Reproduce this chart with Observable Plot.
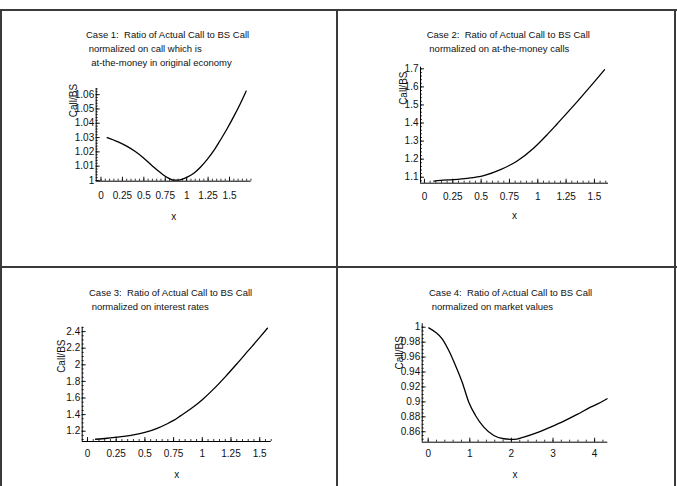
<!DOCTYPE html>
<html>
<head>
<meta charset="utf-8">
<script src="https://cdn.jsdelivr.net/npm/d3@7"></script>
<script src="https://cdn.jsdelivr.net/npm/@observablehq/plot@0.6"></script>
<style>
  html, body { margin: 0; padding: 0; background: #fff; }
  #page { position: relative; width: 677px; height: 486px; overflow: hidden; background: #fff;
          font-family: "Liberation Sans", Arial, sans-serif; color: #000; }
  .hline, .vline { position: absolute; background: #3a3a3a; }
  .title { position: absolute; font-size: 9.5px; line-height: 13.9px; white-space: pre; color: #111; }
  #page svg { position: absolute; left: 0; top: 0; }
</style>
</head>
<body>
<div id="page"></div>
<script>
// ---------- data ----------
const case1X = [0.072, 0.2, 0.305, 0.4, 0.5, 0.6, 0.7, 0.8, 0.85, 0.9, 0.95, 1.0, 1.083, 1.16, 1.24, 1.32, 1.394, 1.47, 1.55, 1.62, 1.694];
const case1Y = [1.030, 1.0270, 1.0238, 1.0202, 1.0156, 1.0102, 1.0052, 1.0013, 1.0002, 1.0003, 1.0010, 1.0022, 1.0050, 1.0092, 1.0147, 1.0212, 1.0283, 1.0360, 1.0448, 1.0530, 1.0625];

const case2X = [0.082, 0.141, 0.25, 0.377, 0.523, 0.671, 0.818, 0.965, 1.083, 1.17, 1.259, 1.35, 1.436, 1.51, 1.589];
const case2Y = [1.079, 1.083, 1.087, 1.094, 1.109, 1.142, 1.19, 1.262, 1.336, 1.395, 1.456, 1.52, 1.582, 1.636, 1.695];

const case3X = [0.07, 0.172, 0.25, 0.317, 0.4, 0.5, 0.607, 0.695, 0.75, 0.81, 0.9, 1.0, 1.1, 1.2, 1.3, 1.4, 1.5, 1.567];
const case3Y = [1.103, 1.115, 1.127, 1.138, 1.155, 1.185, 1.235, 1.29, 1.33, 1.385, 1.47, 1.58, 1.71, 1.855, 2.01, 2.17, 2.33, 2.44];

const case4X = [0.015, 0.175, 0.336, 0.495, 0.656, 0.817, 0.976, 1.137, 1.337, 1.577, 1.817, 2.058, 2.298, 2.62, 2.94, 3.26, 3.58, 3.90, 4.14, 4.30];
const case4Y = [0.9992, 0.9933, 0.9845, 0.9688, 0.9488, 0.9264, 0.8996, 0.8818, 0.8662, 0.855, 0.8506, 0.8497, 0.8528, 0.8587, 0.8662, 0.8742, 0.8832, 0.8929, 0.8992, 0.9042];

// tick values and labels
const xTicksA = [0, 0.25, 0.5, 0.75, 1, 1.25, 1.5];
const xLabelsA = ["0", "0.25", "0.5", "0.75", "1", "1.25", "1.5"];
const xTicksB = [0, 1, 2, 3, 4];
const xLabelsB = ["0", "1", "2", "3", "4"];
const yTicks1 = [1, 1.01, 1.02, 1.03, 1.04, 1.05, 1.06];
const yLabels1 = ["1", "1.01", "1.02", "1.03", "1.04", "1.05", "1.06"];
const yTicks2 = [1.1, 1.2, 1.3, 1.4, 1.5, 1.6, 1.7];
const yLabels2 = ["1.1", "1.2", "1.3", "1.4", "1.5", "1.6", "1.7"];
const yTicks3 = [1.2, 1.4, 1.6, 1.8, 2, 2.2, 2.4];
const yLabels3 = ["1.2", "1.4", "1.6", "1.8", "2", "2.2", "2.4"];
const yTicks4 = [0.86, 0.88, 0.9, 0.92, 0.94, 0.96, 0.98, 1];
const yLabels4 = ["0.86", "0.88", "0.9", "0.92", "0.94", "0.96", "0.98", "1"];

const titles = [
  ["Case 1:  Ratio of Actual Call to BS Call", " normalized on call which is", "  at-the-money in original economy"],
  ["Case 2:  Ratio of Actual Call to BS Call", " normalized on at-the-money calls"],
  ["Case 3:  Ratio of Actual Call to BS Call", " normalized on interest rates"],
  ["Case 4:  Ratio of Actual Call to BS Call", " normalized on market values"]
];
const yAxisLabel = "Call/BS";
const xAxisLabel = "x";

// ---------- layout ----------
const W = 677, H = 486;
const page = document.getElementById("page");

function line(cls, l, t, w, h) {
  const d = document.createElement("div");
  d.className = cls;
  Object.assign(d.style, {left: l + "px", top: t + "px", width: w + "px", height: h + "px"});
  page.appendChild(d);
}
line("hline", 0, 9, 677, 2);
line("hline", 0, 266, 677, 2);
line("vline", 0, 9, 2, 477);
line("vline", 336, 9, 2, 477);
line("vline", 674, 9, 2, 477);

const panels = [
  {xs: case1X, ys: case1Y, title: titles[0], tl: [86, 28],
   frame: {l: 95.7, r: 250.7, t: 88, b: 180.7}, xDomain: [-0.056, 1.753], yDomain: [0.9995, 1.0643],
   xT: xTicksA, xL: xLabelsA, xMinor: d3.range(0, 1.76, 0.05), yT: yTicks1, yL: yLabels1, yMinor: d3.range(1, 1.0645, 0.002),
   xPad: 11, ylab: [-22.7, 12], xlab: 36},
  {xs: case2X, ys: case2Y, title: titles[1], tl: [426.7, 28],
   frame: {l: 420, r: 608, t: 66.7, b: 182.7}, xDomain: [-0.035, 1.624], yDomain: [1.067, 1.709],
   xT: xTicksA, xL: xLabelsA, xMinor: d3.range(0, 1.63, 0.05), yT: yTicks2, yL: yLabels2, yMinor: d3.range(1.08, 1.71, 0.02),
   xPad: 9.8, ylab: [-17, 21], xlab: 32.3},
  {xs: case3X, ys: case3Y, title: titles[2], tl: [89, 285.8],
   frame: {l: 81.7, r: 270.7, t: 326.7, b: 441}, xDomain: [-0.046, 1.60], yDomain: [1.076, 2.453],
   xT: xTicksA, xL: xLabelsA, xMinor: d3.range(0, 1.61, 0.05), yT: yTicks3, yL: yLabels3, yMinor: d3.range(1.1, 2.46, 0.05),
   xPad: 8.5, ylab: [-20, 29], xlab: 33},
  {xs: case4X, ys: case4Y, title: titles[3], tl: [429, 285.8],
   frame: {l: 421.7, r: 607.3, t: 323.3, b: 441.7}, xDomain: [-0.144, 4.317], yDomain: [0.846, 1.0046],
   xT: xTicksB, xL: xLabelsB, xMinor: d3.range(0, 4.32, 0.2), yT: yTicks4, yL: yLabels4, yMinor: d3.range(0.85, 1.005, 0.005),
   xPad: 7.5, ylab: [-22.7, 29], xlab: 32.3}
];

for (const p of panels) {
  const t = document.createElement("div");
  t.className = "title";
  t.style.left = p.tl[0] + "px";
  t.style.top = p.tl[1] + "px";
  t.textContent = p.title.join("\n");
  page.appendChild(t);

  const data = p.xs.map((x, i) => ({x, y: p.ys[i]}));
  const f = p.frame;
  const svg = Plot.plot({
    width: W, height: H,
    marginLeft: f.l, marginRight: W - f.r, marginTop: f.t, marginBottom: H - f.b,
    style: {background: "transparent", fontFamily: "'Liberation Sans', Arial, sans-serif", fontSize: "10px", color: "#000", overflow: "visible"},
    x: {domain: p.xDomain},
    y: {domain: p.yDomain},
    marks: [
      Plot.ruleY([p.yDomain[0]], {stroke: "#000", strokeWidth: 1}),
      Plot.ruleX([p.xDomain[0]], {stroke: "#000", strokeWidth: 1}),
      Plot.axisX({ticks: p.xMinor, tickSize: 2, dy: -2, tickFormat: () => "", label: null, strokeWidth: 0.8}),
      Plot.axisX({ticks: p.xT, tickSize: 4, dy: -4, tickFormat: () => "", label: null, strokeWidth: 0.9}),
      Plot.axisX({ticks: p.xT, tickSize: 0, tickPadding: p.xPad, tickFormat: (d, i) => p.xL[i], label: null, fill: "#111", fontSize: 10}),
      Plot.axisY({ticks: p.yMinor, tickSize: 2, dx: 2, tickFormat: () => "", label: null, strokeWidth: 0.8}),
      Plot.axisY({ticks: p.yT, tickSize: 4, dx: 4, tickFormat: () => "", label: null, strokeWidth: 0.9}),
      Plot.axisY({ticks: p.yT, tickSize: 0, tickPadding: 2, tickFormat: (d, i) => p.yL[i], label: null, fill: "#111", fontSize: 10}),
      Plot.line(data, {x: "x", y: "y", stroke: "#000", strokeWidth: 1.3, curve: "monotone-x"}),
      Plot.text([yAxisLabel], {frameAnchor: "top-left", textAnchor: "middle", lineAnchor: "middle", rotate: -90, dx: p.ylab[0], dy: p.ylab[1], fontSize: 10, fill: "#111"}),
      Plot.text([xAxisLabel], {frameAnchor: "bottom", textAnchor: "middle", lineAnchor: "middle", dy: p.xlab, fontSize: 10, fill: "#111"})
    ]
  });
  page.appendChild(svg);
}
</script>
</body>
</html>
